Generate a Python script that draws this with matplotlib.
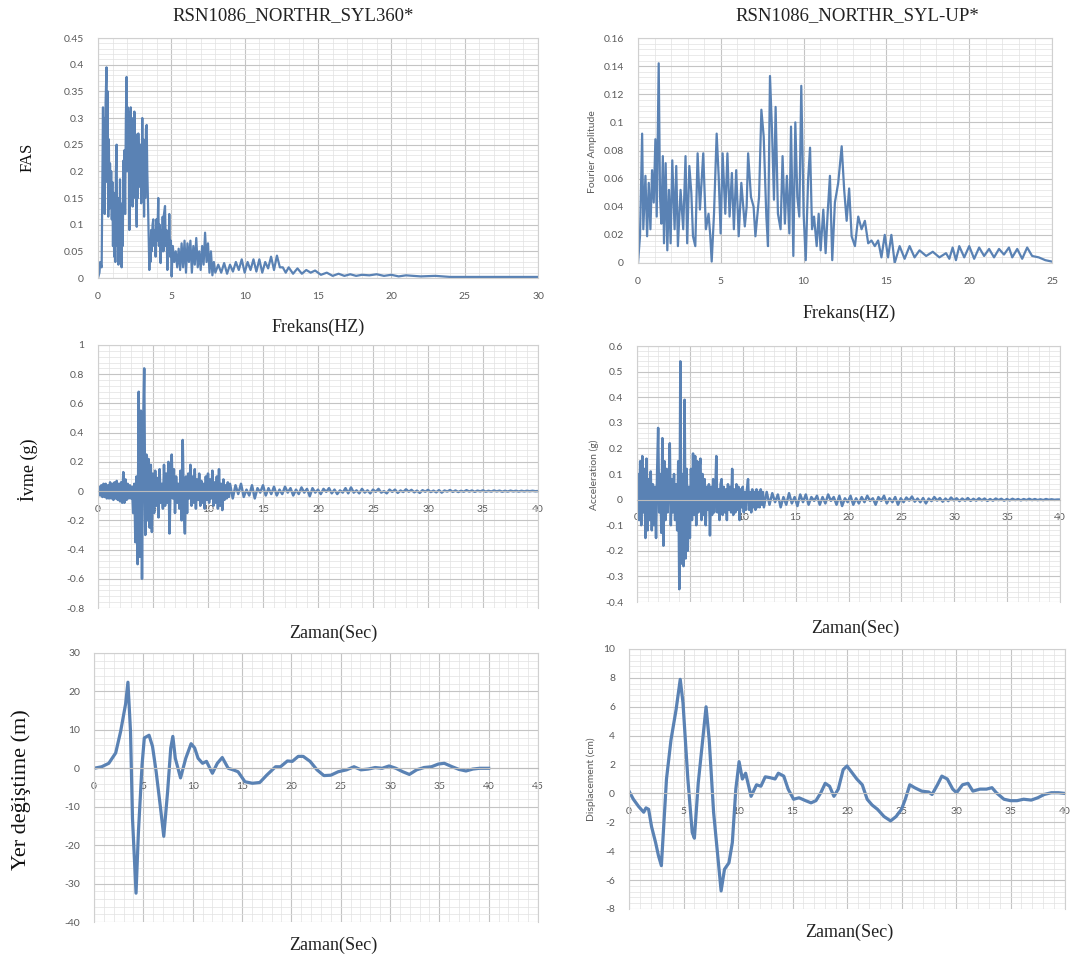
import numpy as np
import matplotlib
matplotlib.use("Agg")
import matplotlib.pyplot as plt
from matplotlib.ticker import MultipleLocator, FuncFormatter

plt.rcParams['axes.unicode_minus'] = False

# ---------------- DATA ----------------
titles = ["RSN1086_NORTHR_SYL360*", "RSN1086_NORTHR_SYL-UP*"]
row_labels = ["FAS", "İvme (g)", "Yer değiştime (m)"]

# FAS, left (SYL360): (frequency Hz, amplitude)
fas_left = [(0.00,0.000),(0.10,0.010),(0.15,0.030),(0.25,0.020),(0.30,0.180),(0.34,0.320),(0.38,0.150),(0.42,0.300),
    (0.46,0.120),(0.52,0.330),(0.58,0.395),(0.62,0.180),(0.66,0.350),(0.70,0.115),(0.74,0.260),(0.78,0.130),
    (0.82,0.215),(0.86,0.140),(0.90,0.200),(0.94,0.110),(0.98,0.180),(1.02,0.060),(1.06,0.160),(1.10,0.040),
    (1.14,0.100),(1.18,0.030),(1.22,0.200),(1.27,0.250),(1.31,0.060),(1.35,0.120),(1.39,0.025),(1.43,0.150),
    (1.47,0.080),(1.50,0.185),(1.54,0.040),(1.58,0.120),(1.61,0.020),(1.65,0.140),(1.69,0.060),(1.73,0.220),
    (1.77,0.150),(1.81,0.240),(1.85,0.120),(1.90,0.300),(1.95,0.377),(1.99,0.200),(2.03,0.320),(2.07,0.250),
    (2.11,0.310),(2.14,0.090),(2.18,0.280),(2.23,0.320),(2.27,0.180),(2.31,0.300),(2.36,0.134),(2.40,0.260),
    (2.44,0.150),(2.48,0.312),(2.52,0.200),(2.56,0.270),(2.60,0.130),(2.64,0.096),(2.68,0.220),(2.72,0.150),
    (2.75,0.271),(2.80,0.190),(2.86,0.171),(2.90,0.250),(2.95,0.140),(3.02,0.300),(3.06,0.200),(3.10,0.260),
    (3.14,0.115),(3.18,0.230),(3.22,0.150),(3.27,0.280),(3.32,0.287),(3.36,0.200),(3.40,0.153),(3.45,0.080),
    (3.50,0.015),(3.54,0.060),(3.58,0.030),(3.62,0.090),(3.66,0.050),(3.72,0.100),(3.77,0.110),(3.82,0.060),
    (3.87,0.090),(3.93,0.040),(3.98,0.110),(4.04,0.070),(4.11,0.150),(4.15,0.060),(4.20,0.100),(4.27,0.028),
    (4.32,0.090),(4.36,0.050),(4.41,0.115),(4.46,0.050),(4.50,0.120),(4.57,0.135),(4.62,0.060),(4.67,0.090),
    (4.73,0.015),(4.78,0.080),(4.82,0.060),(4.86,0.120),(4.92,0.040),(4.97,0.070),(5.02,0.003),(5.1,0.060),
    (5.2,0.030),(5.3,0.050),(5.4,0.020),(5.5,0.055),(5.6,0.015),(5.7,0.065),(5.8,0.020),(5.9,0.070),
    (6.0,0.010),(6.1,0.065),(6.2,0.030),(6.3,0.070),(6.4,0.010),(6.5,0.060),(6.6,0.025),(6.7,0.075),
    (6.8,0.020),(6.9,0.050),(7.0,0.015),(7.1,0.060),(7.2,0.025),(7.3,0.085),(7.4,0.030),(7.5,0.065),
    (7.6,0.010),(7.7,0.050),(7.8,0.005),(7.9,0.030),(8.0,0.010),(8.2,0.025),(8.4,0.010),(8.6,0.028),
    (8.8,0.008),(9.0,0.025),(9.2,0.012),(9.4,0.030),(9.6,0.015),(9.8,0.035),(10.0,0.010),(10.2,0.030),
    (10.4,0.015),(10.6,0.035),(10.8,0.012),(11.0,0.035),(11.2,0.010),(11.4,0.030),(11.6,0.018),(11.8,0.040),
    (12.0,0.015),(12.2,0.042),(12.4,0.020),(12.6,0.020),(12.8,0.010),(13.0,0.020),(13.3,0.008),(13.6,0.018),
    (13.9,0.008),(14.2,0.015),(14.5,0.010),(14.8,0.014),(15.2,0.006),(15.6,0.010),(16.0,0.004),(16.4,0.008),
    (16.8,0.004),(17.2,0.007),(17.6,0.004),(18.0,0.006),(18.5,0.005),(19.0,0.007),(19.5,0.004),(20.0,0.006),
    (20.5,0.003),(21.0,0.005),(22.0,0.003),(23.0,0.004),(24.0,0.002),(25.0,0.002),(26.0,0.002),(28.0,0.002),
    (30.0,0.002)]

# FAS, right (SYL-UP): (frequency Hz, Fourier amplitude)
fas_right = [(0.00,0.000),(0.12,0.019),(0.25,0.092),(0.32,0.024),(0.45,0.062),(0.55,0.019),(0.65,0.057),(0.75,0.024),
    (0.85,0.066),(0.95,0.043),(1.05,0.088),(1.13,0.033),(1.25,0.142),(1.33,0.047),(1.41,0.028),(1.50,0.076),
    (1.57,0.014),(1.67,0.071),(1.77,0.009),(1.87,0.052),(1.97,0.014),(2.07,0.073),(2.21,0.024),(2.31,0.069),
    (2.41,0.012),(2.57,0.052),(2.73,0.024),(2.87,0.076),(2.97,0.014),(3.10,0.069),(3.22,0.050),(3.32,0.019),
    (3.46,0.012),(3.60,0.078),(3.74,0.038),(3.94,0.078),(4.10,0.024),(4.26,0.035),(4.36,0.020),(4.45,0.001),
    (4.59,0.035),(4.75,0.092),(4.87,0.062),(4.99,0.021),(5.11,0.078),(5.27,0.035),(5.40,0.078),(5.53,0.033),
    (5.67,0.064),(5.79,0.024),(5.93,0.066),(6.08,0.019),(6.24,0.057),(6.45,0.026),(6.56,0.040),(6.65,0.078),
    (6.82,0.047),(6.98,0.040),(7.09,0.019),(7.31,0.047),(7.45,0.109),(7.59,0.090),(7.75,0.033),(7.85,0.012),
    (7.97,0.133),(8.09,0.095),(8.21,0.045),(8.31,0.111),(8.45,0.035),(8.61,0.024),(8.73,0.076),(8.87,0.028),
    (8.99,0.062),(9.14,0.021),(9.24,0.097),(9.38,0.005),(9.50,0.100),(9.62,0.047),(9.74,0.033),(9.86,0.126),
    (10.00,0.035),(10.13,0.002),(10.27,0.059),(10.39,0.082),(10.51,0.024),(10.63,0.033),(10.79,0.012),(10.91,0.035),
    (11.03,0.009),(11.19,0.038),(11.33,0.007),(11.45,0.035),(11.59,0.062),(11.73,0.002),(11.89,0.043),(12.09,0.057),
    (12.30,0.083),(12.45,0.052),(12.60,0.030),(12.75,0.053),(12.90,0.019),(13.10,0.012),(13.30,0.033),(13.50,0.024),
    (13.70,0.030),(13.90,0.014),(14.10,0.016),(14.30,0.012),(14.50,0.016),(14.70,0.004),(14.90,0.020),(15.10,0.004),
    (15.30,0.020),(15.50,0.000),(15.80,0.012),(16.10,0.003),(16.40,0.012),(16.70,0.004),(17.00,0.009),(17.40,0.005),
    (17.80,0.008),(18.20,0.004),(18.60,0.007),(18.80,0.003),(19.00,0.011),(19.20,0.002),(19.40,0.012),(19.70,0.004),
    (20.00,0.012),(20.30,0.003),(20.60,0.011),(20.90,0.005),(21.20,0.010),(21.50,0.004),(21.80,0.010),(22.10,0.006),
    (22.40,0.011),(22.60,0.004),(22.90,0.010),(23.20,0.003),(23.50,0.011),(23.80,0.005),(24.20,0.004),(24.60,0.002),
    (25.00,0.001)]

# Acceleration records (g): 0-12 s read every 0.1 s, then the tail 12-40 s read at equal steps
acc_step_early = 0.1
acc_end = 40.0
acc_left_early = [0.00, 0.03, -0.03, 0.04, -0.04, 0.05, -0.04, 0.05, -0.05, 0.04, -0.05, 0.06, -0.05, 0.05, -0.06, 0.06,
    -0.05, 0.07, -0.06, 0.05, -0.07, 0.06, -0.08, 0.13, -0.08, 0.08, -0.06, 0.05, -0.05, 0.04, -0.05,
    0.03, -0.15, 0.05, -0.35, 0.10, -0.50, 0.68, -0.45, 0.55, -0.60, 0.40, 0.84, -0.30, 0.25, -0.20, 0.22,
    -0.25, 0.18, -0.28, 0.12, -0.15, 0.14, -0.10, 0.09, -0.18, 0.15, -0.08, 0.05, -0.12, 0.18, -0.10, 0.12,
    -0.08, 0.20, -0.29, 0.05, 0.25, -0.05, 0.15, -0.15, 0.10, -0.08, 0.05, -0.12, 0.14, -0.20, 0.35, -0.10,
    -0.29, 0.10, -0.15, 0.12, -0.05, 0.18, -0.10, 0.10, -0.08, 0.15, -0.12, 0.08, -0.06, 0.12, -0.10, 0.07,
    -0.08, 0.05, -0.12, 0.10, -0.06, 0.12, -0.08, 0.08, -0.05, 0.14, -0.10, 0.06, -0.08, 0.10, -0.12, 0.15,
    -0.10, 0.05, -0.13, 0.08, -0.06, 0.04, -0.05, 0.06, -0.04, 0.05]
acc_left_late = [-0.05, 0.04, -0.02, 0.05, -0.04, 0.01, -0.03, 0.04, -0.05, 0.02, -0.01, 0.04, -0.03, 0.02, -0.02, 0.03,
    -0.03, 0.01, -0.02, 0.03, -0.01, 0.02, -0.03, 0.01, -0.02, 0.025, -0.01, 0.015, -0.035, 0.02, -0.01, 0.01,
    -0.02, 0.015, -0.005, 0.02, -0.015, 0.01, -0.02, 0.005, -0.01, 0.02, -0.015, 0.025, -0.01, 0.005, -0.015, 0.015,
    -0.01, 0.005, -0.015, 0.01, -0.005, 0.015, -0.01, 0.0, -0.015, 0.01, -0.005, 0.01, -0.012, 0.004, -0.006, 0.012,
    -0.004, 0.008, -0.008, 0.003, -0.012, 0.006, -0.004, 0.008, -0.006, 0.003, -0.008, 0.006, -0.01, 0.004, -0.003, 0.007,
    -0.005, 0.004, -0.006, 0.002, -0.004, 0.006, -0.003, 0.004, -0.005, 0.003, -0.002, 0.005, -0.004, 0.002, -0.003, 0.004,
    -0.002, 0.003, -0.004, 0.002, -0.003, 0.003, -0.002, 0.002, -0.003, 0.002, -0.002, 0.002, -0.001, 0.002, -0.001, 0.00]
acc_right_early = [0.00, 0.10, -0.08, 0.15, -0.10, 0.17, -0.05, 0.12, -0.15, 0.16, -0.12, 0.08, -0.08, 0.11, -0.12, 0.06,
    -0.10, 0.05, -0.15, 0.10, 0.28, -0.05, 0.10, -0.13, 0.24, -0.18, 0.15, -0.08, 0.12, -0.05, 0.05,
    0.22, -0.10, 0.08, -0.05, 0.10, -0.08, 0.06, -0.12, 0.15, -0.35, 0.54, -0.25, 0.10, -0.26, 0.39,
    -0.23, 0.12, -0.20, 0.05, -0.15, 0.12, -0.08, 0.18, -0.06, 0.17, -0.10, 0.15, -0.05, 0.12, 0.16,
    -0.08, 0.10, -0.06, 0.08, -0.10, 0.05, -0.04, 0.06, -0.14, 0.05, -0.06, 0.08, -0.05, 0.03, 0.17,
    -0.05, 0.04, -0.08, 0.06, 0.08, -0.06, 0.05, -0.05, 0.04, -0.08, 0.06, -0.04, 0.05, -0.05, 0.12,
    -0.06, 0.04, -0.05, 0.06, -0.04, 0.05, -0.08, 0.04, -0.03, 0.05, -0.05, 0.03, -0.04, 0.04, 0.08,
    -0.04, 0.03, -0.05, 0.04, -0.03, 0.03, -0.04, 0.04, -0.03, 0.03, -0.03, 0.04, -0.02, 0.03, -0.03]
acc_right_late = [0.03, -0.02, 0.025, -0.01, 0.02, -0.03, 0.01, -0.02, 0.025, -0.015, 0.01, -0.025, 0.02, -0.01, 0.02,
    -0.02, 0.01, -0.005, 0.015, -0.02, 0.01, -0.015, 0.02, -0.005, 0.01, -0.02, 0.015, -0.025, 0.005, -0.01,
    0.015, -0.02, 0.005, -0.015, 0.01, -0.01, 0.015, -0.005, 0.005, -0.02, 0.01, -0.005, 0.015, -0.015, 0.005,
    -0.01, 0.01, -0.02, 0.005, -0.01, 0.008, -0.004, 0.012, -0.008, 0.004, -0.01, 0.006, -0.015, 0.004, -0.006,
    0.01, -0.004, 0.006, -0.008, 0.004, -0.006, 0.008, -0.003, 0.005, -0.006, 0.004, -0.004, 0.006, -0.005, 0.003,
    -0.004, 0.005, -0.003, 0.004, -0.005, 0.002, -0.004, 0.004, -0.002, 0.003, -0.004, 0.002, -0.003, 0.003, -0.002,
    0.002, -0.003, 0.002, -0.002, 0.003, -0.002, 0.002, -0.002, 0.001, -0.002, 0.002, -0.001, 0.001, -0.001, 0.00, 0.00]

# Displacement, left (s, value)
disp_left = [(0,0),(0.78,0.4),(1.5,1.3),(2.2,4.0),(2.7,9.6),(3.2,16.7),(3.44,22.4),(3.7,9.6),(3.9,-13.0),
    (4.26,-32.5),(4.5,-16.7),(4.87,0.9),(5.1,7.9),(5.58,8.6),(5.93,5.7),(6.3,-0.9),(6.75,-10.5),(7.07,-17.7),
    (7.46,-6.1),(7.78,5.3),(7.99,8.3),(8.24,2.6),(8.77,-2.5),(9.3,2.6),(9.84,6.4),(10.2,5.3),(10.55,2.6),
    (11.0,1.3),(11.4,1.8),(12.0,-1.3),(12.5,1.3),(13.0,2.8),(13.6,0.0),(14.1,-0.4),(14.6,-0.9),(15.3,-3.5),
    (16.05,-3.9),(16.8,-3.7),(17.5,-1.8),(18.4,0.4),(18.9,0.4),(19.6,1.9),(20.1,1.8),(20.7,3.1),(21.2,3.1),
    (21.9,1.8),(22.6,-0.4),(23.3,-1.9),(24.0,-1.8),(24.75,-0.9),(25.6,-0.4),(26.35,0.4),(27.06,-0.4),
    (27.8,-0.2),(28.5,0.2),(29.2,0.0),(29.9,0.6),(30.6,0.0),(31.3,-0.9),(31.96,-1.6),(32.7,-0.4),(33.45,0.2),
    (34.2,0.4),(34.9,1.1),(35.5,1.3),(36.3,0.4),(37.0,-0.3),(37.7,-0.7),(38.4,-0.2),(39.1,0.0),(40.0,0.0)]

# Displacement, right (s, cm)
disp_right = [(0,0.16),(0.4,-0.4),(0.88,-0.9),(1.35,-1.3),(1.56,-1.0),(1.8,-1.1),(2.07,-2.3),(2.44,-3.4),
    (2.7,-4.3),(2.97,-5.0),(3.44,1.0),(3.85,3.7),(4.32,5.8),(4.7,7.9),(4.95,6.3),(5.4,1.0),(5.8,-2.7),
    (6.0,-3.1),(6.35,0.7),(6.76,3.7),(7.07,6.0),(7.36,3.7),(7.76,-1.3),(8.14,-4.3),(8.45,-6.75),(8.76,-5.25),
    (9.17,-4.8),(9.48,-3.4),(9.8,0.3),(10.1,2.2),(10.4,1.0),(10.7,1.4),(11.2,-0.2),(11.7,0.6),(12.1,0.5),
    (12.5,1.15),(12.9,1.1),(13.4,1.0),(13.7,1.4),(14.2,1.2),(14.6,0.3),(15.1,-0.4),(15.6,-0.3),(16.2,-0.5),
    (16.7,-0.65),(17.15,-0.5),(17.6,0.05),(18.0,0.7),(18.4,0.5),(18.8,-0.2),(19.2,0.3),(19.65,1.65),(20.0,1.9),
    (20.4,1.5),(20.9,1.0),(21.4,0.6),(21.85,-0.4),(22.3,-0.8),(22.8,-1.1),(23.4,-1.6),(24.0,-1.9),(24.5,-1.6),
    (25.0,-1.1),(25.35,-0.4),(25.76,0.6),(26.2,0.4),(26.85,0.16),(27.5,0.1),(27.8,-0.07),(28.3,0.6),(28.7,1.2),
    (29.2,1.0),(29.7,0.3),(30.05,0.05),(30.6,0.6),(31.1,0.7),(31.55,0.16),(32.2,0.3),(32.8,0.3),(33.3,0.4),
    (33.7,0.05),(34.4,-0.4),(35.0,-0.5),(35.6,-0.5),(36.2,-0.4),(36.9,-0.46),(37.5,-0.3),(38.1,-0.07),
    (38.75,0.05),(39.4,0.05),(40.0,0.0)]


def unzip(pairs):
    a = np.array(pairs, dtype=float)
    return a[:, 0], a[:, 1]


def acc_series(early, late):
    t1 = np.arange(len(early)) * acc_step_early
    t2 = np.linspace(t1[-1], acc_end, len(late) + 1)[1:]
    return np.concatenate([t1, t2]), np.array(early + late, dtype=float)


# ---------------- FIGURE ----------------
W, H = 1075, 965
fig = plt.figure(figsize=(W / 100, H / 100), dpi=100)
fig.patch.set_facecolor("white")

LINE = "#5a82b4"
TICKC = "#5a5a5a"
SERIF = ["Liberation Serif", "DejaVu Serif"]
SANS = ["Lato", "DejaVu Sans"]


def px_axes(x0, x1, y0, y1):
    return fig.add_axes([x0 / W, 1 - y1 / H, (x1 - x0) / W, (y1 - y0) / H])


def fmt(v, pos):
    s = f"{v:.3f}".rstrip("0").rstrip(".")
    if s in ("-0", ""):
        s = "0"
    return s


def style(ax, xlim, ylim, xmaj, xmin, ymaj, ymin, zero_axis=False):
    ax.set_xlim(*xlim)
    ax.set_ylim(*ylim)
    ax.xaxis.set_major_locator(MultipleLocator(xmaj))
    ax.xaxis.set_minor_locator(MultipleLocator(xmin))
    ax.yaxis.set_major_locator(MultipleLocator(ymaj))
    ax.yaxis.set_minor_locator(MultipleLocator(ymin))
    ax.xaxis.set_major_formatter(FuncFormatter(fmt))
    ax.yaxis.set_major_formatter(FuncFormatter(fmt))
    ax.grid(True, which="major", color="#c4c4c4", lw=0.8)
    ax.grid(True, which="minor", color="#e2e2e2", lw=0.5)
    ax.set_axisbelow(True)
    for s in ax.spines.values():
        s.set_color("#d0d0d0")
        s.set_linewidth(0.8)
    if zero_axis:
        ax.spines["bottom"].set_position(("data", 0))
        ax.spines["bottom"].set_color("#bdbdbd")
    ax.tick_params(which="both", length=0, labelsize=7.5, labelcolor=TICKC)
    ax.tick_params(axis="y", pad=10)
    ax.tick_params(axis="x", pad=10)
    for lab in ax.get_xticklabels() + ax.get_yticklabels():
        lab.set_family(SANS)


# Top-left FAS
f, a = unzip(fas_left)
ax1 = px_axes(98, 538, 38, 278)
ax1.plot(f, a, color=LINE, lw=1.6)
style(ax1, (0, 30), (0, 0.45), 5, 1, 0.05, 0.01)

# Top-right FAS
f, a = unzip(fas_right)
ax2 = px_axes(638, 1052, 38, 263)
ax2.plot(f, a, color=LINE, lw=1.6)
style(ax2, (0, 25), (0, 0.16), 5, 1, 0.02, 0.004)

# Mid-left acceleration
t, v = acc_series(acc_left_early, acc_left_late)
ax3 = px_axes(98, 538, 345, 608)
ax3.plot(t, v, color=LINE, lw=1.8)
style(ax3, (0, 40), (-0.8, 1.0), 5, 1, 0.2, 0.04, zero_axis=True)

# Mid-right acceleration
t, v = acc_series(acc_right_early, acc_right_late)
ax4 = px_axes(637, 1060, 346, 602)
ax4.plot(t, v, color=LINE, lw=1.8)
style(ax4, (0, 40), (-0.4, 0.6), 5, 1, 0.1, 0.02, zero_axis=True)

# Bottom-left displacement
t, v = unzip(disp_left)
ax5 = px_axes(94, 538, 653, 922)
ax5.plot(t, v, color=LINE, lw=2.3)
style(ax5, (0, 45), (-40, 30), 5, 1, 10, 2, zero_axis=True)

# Bottom-right displacement
t, v = unzip(disp_right)
ax6 = px_axes(629, 1065, 649, 909)
ax6.plot(t, v, color=LINE, lw=2.3)
style(ax6, (0, 40), (-8, 10), 5, 1, 2, 0.4, zero_axis=True)


def ftext(x, y, s, **kw):
    fig.text(x / W, 1 - y / H, s, **kw)


# small sans y labels (right column)
ftext(593, 152, "Fourier Amplitude", rotation=90, ha="center", va="center",
      fontsize=7.5, color=TICKC, family=SANS)
ftext(594, 475, "Acceleration (g)", rotation=90, ha="center", va="center",
      fontsize=7.5, color=TICKC, family=SANS)
ftext(591, 779, "Displacement (cm)", rotation=90, ha="center", va="center",
      fontsize=7.5, color=TICKC, family=SANS)

# titles
ftext(293, 16, titles[0], ha="center", va="center", fontsize=13.5, color="#222222", family=SERIF)
ftext(857, 16, titles[1], ha="center", va="center", fontsize=13.5, color="#222222", family=SERIF)

# row labels
ftext(28, 157, row_labels[0], rotation=90, ha="center", va="center", fontsize=12, color="#111111", family=SERIF)
ftext(28, 470, row_labels[1], rotation=90, ha="center", va="center", fontsize=13, color="#111111", family=SERIF)
ftext(21, 790, row_labels[2], rotation=90, ha="center", va="center", fontsize=16, color="#111111", family=SERIF)

# x labels
XL = dict(ha="center", va="center", fontsize=13, color="#222222", family=SERIF)
ftext(318, 327, "Frekans(HZ)", **XL)
ftext(849, 313, "Frekans(HZ)", **XL)
ftext(333, 633, "Zaman(Sec)", **XL)
ftext(855, 628, "Zaman(Sec)", **XL)
ftext(333, 945, "Zaman(Sec)", **XL)
ftext(849, 932, "Zaman(Sec)", **XL)

fig.savefig("out.png", dpi=100, facecolor="white")
